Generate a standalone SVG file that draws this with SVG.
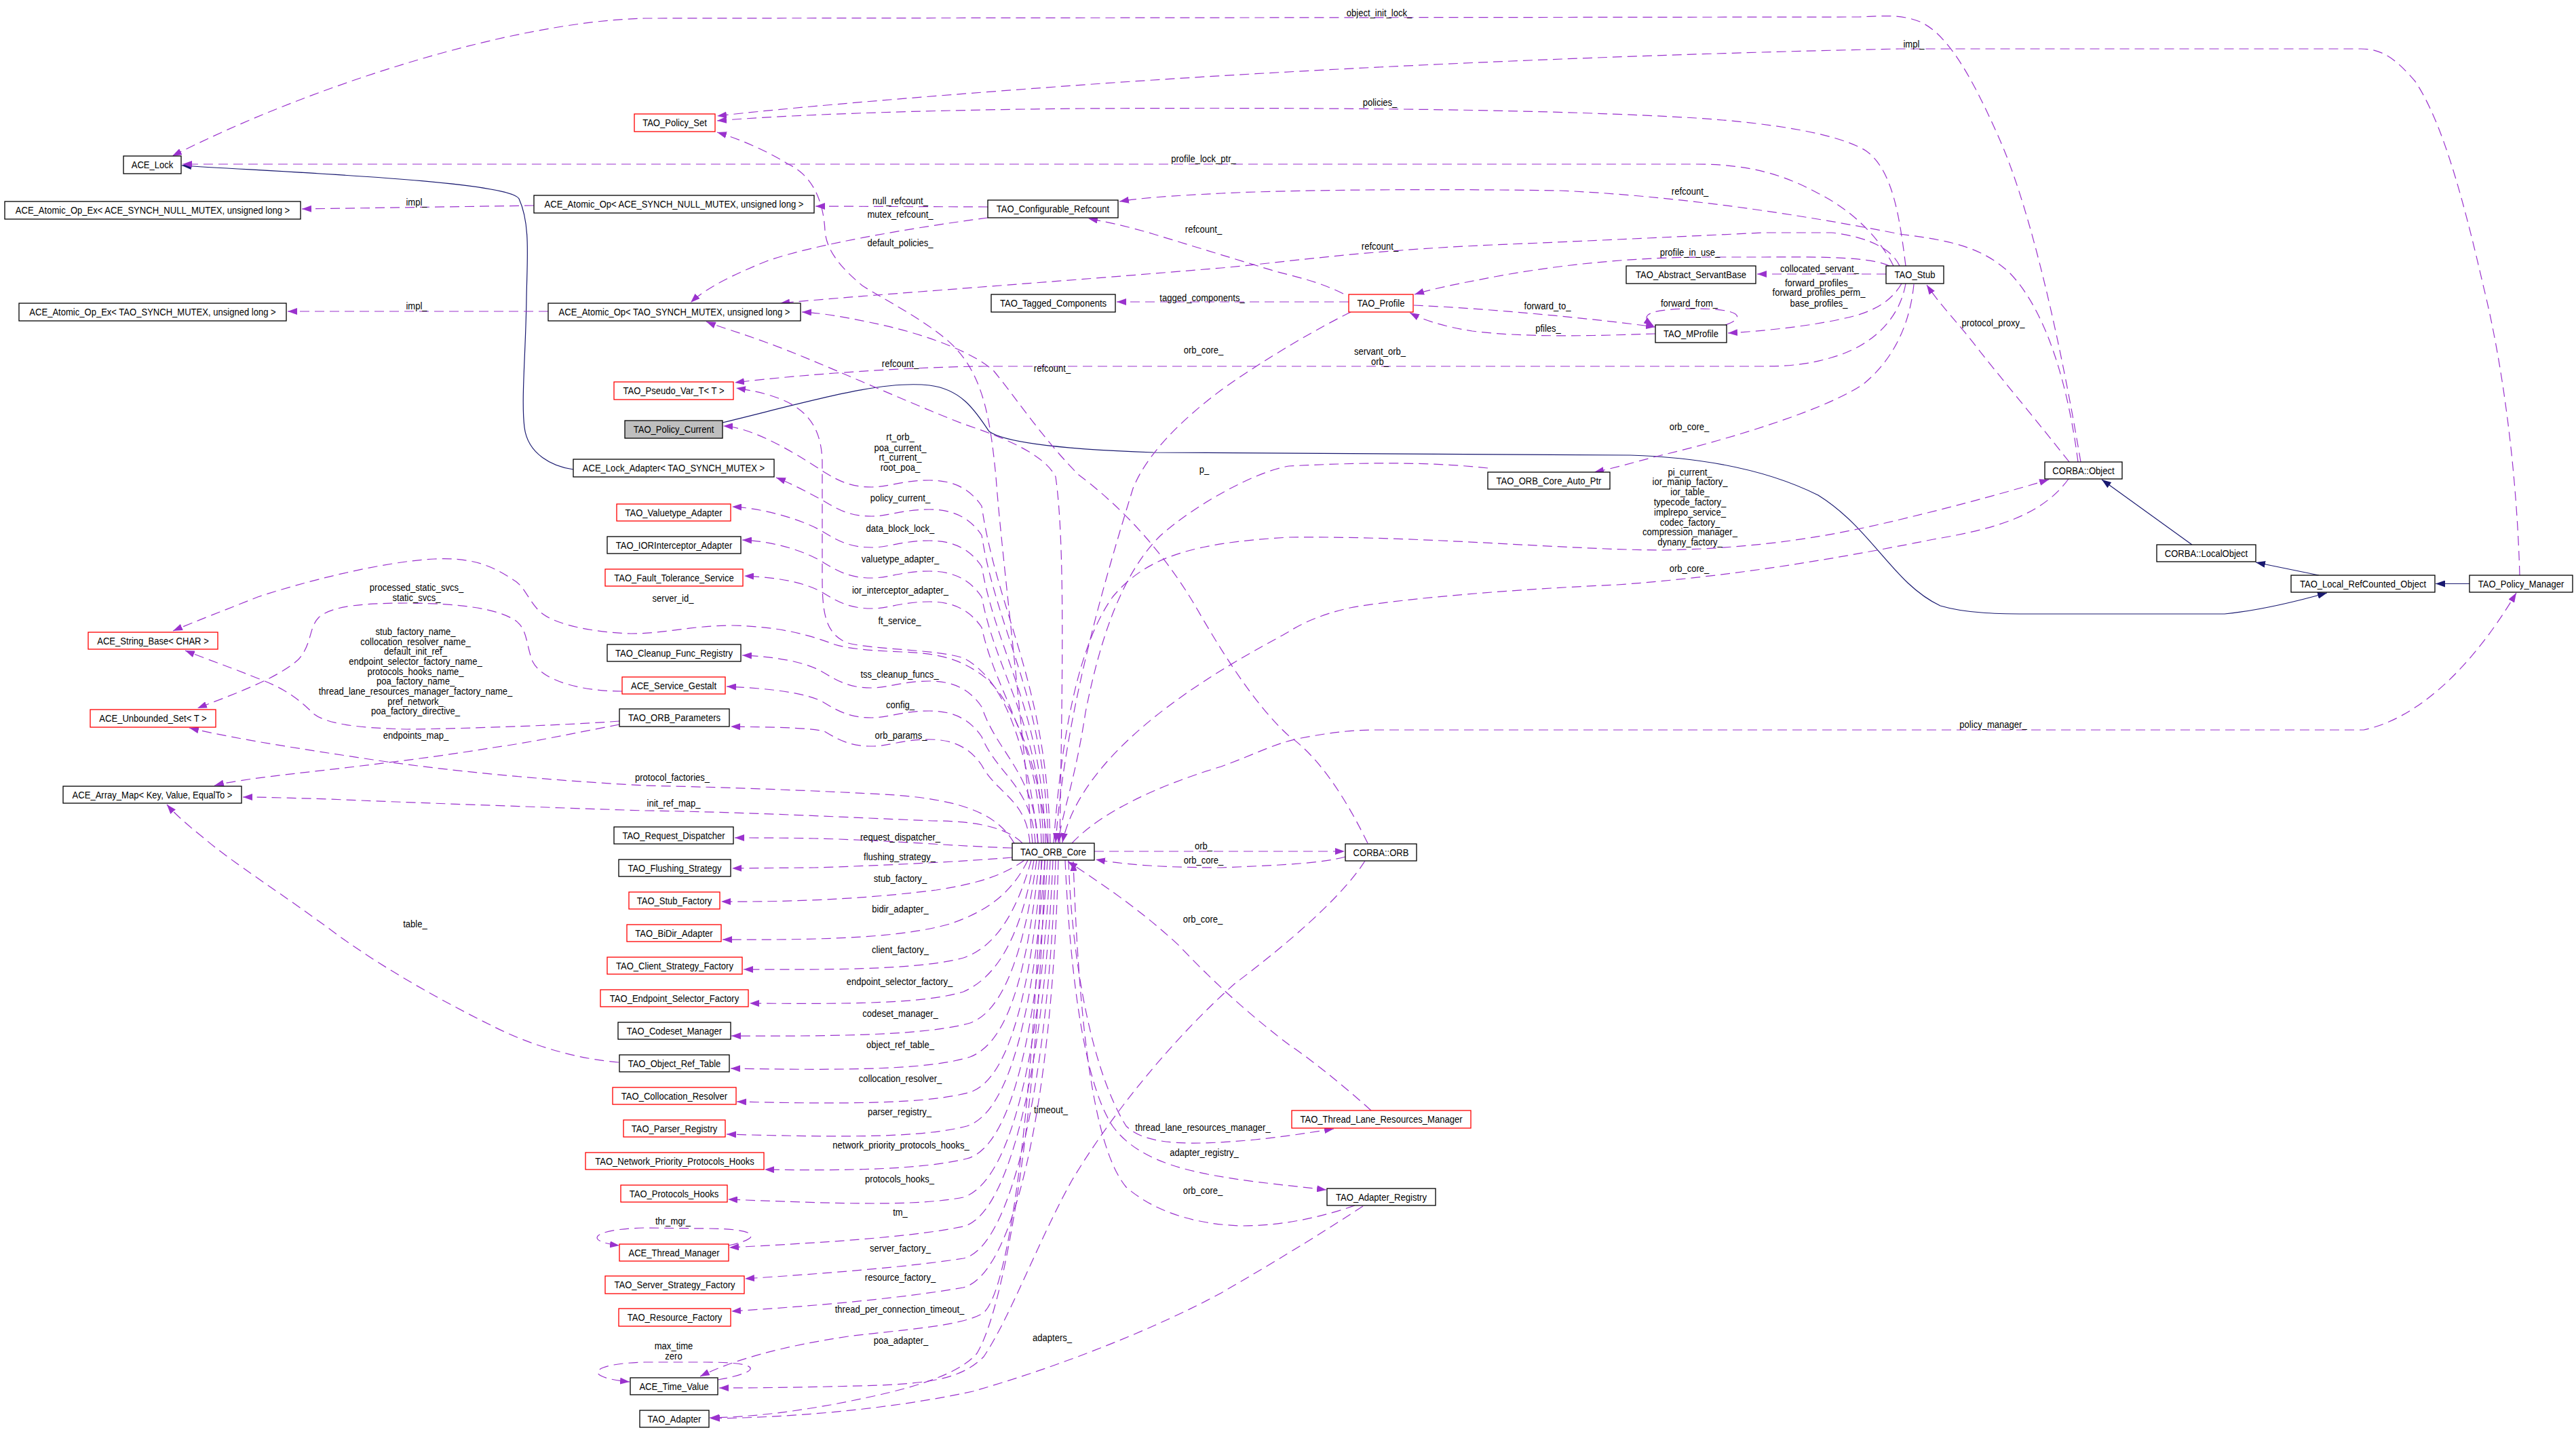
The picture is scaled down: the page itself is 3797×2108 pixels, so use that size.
<svg xmlns="http://www.w3.org/2000/svg" width="3797" height="2108" viewBox="0 0 3797 2108">
<style>
text{font-family:"Liberation Sans",Arial,sans-serif;font-size:15px;fill:#000;text-anchor:middle}
rect.b{fill:#fff;stroke:#000;stroke-width:1.3}
rect.r{fill:#fff;stroke:#ff0000;stroke-width:1.3}
rect.g{fill:#bfbfbf;stroke:#000;stroke-width:1.3}
.e{fill:none;stroke:#9a32cd;stroke-width:1.2;stroke-dasharray:14,8;marker-end:url(#pa)}
.i{fill:none;stroke:#191970;stroke-width:1.2;marker-end:url(#na)}
</style>
<defs>
<marker id="pa" viewBox="0 0 14 10" refX="14" refY="5" markerWidth="14" markerHeight="10" markerUnits="userSpaceOnUse" orient="auto"><path d="M0,0 L14,5 L0,10 z" fill="#9a32cd"/></marker>
<marker id="na" viewBox="0 0 14 10" refX="14" refY="5" markerWidth="14" markerHeight="10" markerUnits="userSpaceOnUse" orient="auto"><path d="M0,0 L14,5 L0,10 z" fill="#191970"/></marker>
</defs>
<rect x="0" y="0" width="3797" height="2108" fill="#fff"/>

<g id="connectors">
<path class="i" d="M845,692 C815,688 778,670 773,630 C768,590 775,520 776,440 C777,380 782,330 765,293 C750,266 400,253 268,244"/>
<path class="i" d="M1065,623 C1200,590 1300,560 1370,568 C1420,574 1440,610 1458,636 C1480,652 1560,662 1700,667 L2403,671 C2530,675 2620,700 2680,730 C2760,780 2790,860 2860,893 C2900,905 2950,905 3000,905 L3279,905 C3330,900 3380,888 3430,874"/>
<path class="i" d="M3231,803 L3098,707"/>
<path class="i" d="M3418,848 L3325,829"/>
<path class="i" d="M3640,860.5 L3590,860.5"/>

<path class="e" d="M3067,681 C3040,520 2995,310 2945,200 C2905,110 2870,50 2830,32 C2800,20 2770,24 2740,25 L950,27 C750,32 450,130 254,230"/>
<path class="e" d="M3714,848 C3710,700 3690,540 3660,420 C3630,290 3600,180 3560,120 C3530,85 3510,72 3480,72 L2800,72 C2500,78 2000,95 1556,128 C1350,143 1150,160 1057,171"/>
<path class="e" d="M2809,392 C2800,320 2790,250 2750,222 C2710,198 2620,182 2500,174 C2300,162 2000,158 1600,160 C1350,162 1150,170 1057,178"/>
<path class="e" d="M2791,392 C2770,350 2730,310 2680,285 C2630,258 2580,242 2500,242 L269,242"/>
<path class="e" d="M3063,681 C3050,580 3020,460 2960,400 C2920,365 2880,355 2800,345 C2700,325 2500,290 2300,281 C2100,278 1900,280 1800,285 C1720,289 1680,292 1650,297"/>
<path class="e" d="M1980,433 C1950,418 1920,410 1880,400 L1700,345 C1660,333 1630,327 1604,322"/>
<path class="e" d="M2785,392 C2760,380 2700,378 2600,379 L2506,379 C2400,380 2300,390 2203,408 C2150,418 2110,426 2085,434"/>
<path class="e" d="M2800,392 C2790,370 2760,350 2700,343 L2600,343 C2450,350 2300,357 2200,361 C2000,370 1900,386 1800,395 C1500,420 1250,437 1150,447"/>
<path class="e" d="M2780,404 L2590,404"/>
<path class="e" d="M2803,418 C2790,440 2770,455 2736,465 C2680,480 2600,488 2547,491"/>
<path class="e" d="M2084,450 C2200,455 2350,470 2440,482"/>
<path class="e" d="M2440,492 C2350,495 2250,498 2170,488 C2120,480 2095,470 2078,461"/>
<path class="e" d="M2543,479 C2575,468 2565,455 2500,455 C2440,455 2410,462 2437,480"/>
<path class="e" d="M1988,445 L1646,445"/>
<path class="e" d="M1456,305 L1202,304"/>
<path class="e" d="M1456,321 C1350,335 1200,360 1130,385 C1080,405 1040,425 1018,446"/>
<path class="e" d="M787,303 L445,308"/>
<path class="e" d="M808,459 L424,459"/>
<path class="e" d="M2809,418 C2800,470 2760,510 2700,527 C2670,536 2640,540 2600,540 L1450,540 C1350,541 1200,550 1083,564"/>
<path class="e" d="M2821,419 C2815,480 2790,530 2748,565 C2700,600 2560,645 2445,672 C2410,681 2380,690 2350,696"/>
<path class="e" d="M3050,681 C3010,630 2960,570 2920,520 C2890,480 2860,450 2840,420"/>

<path class="e" d="M1522,1243 C1500,1000 1475,800 1468,703 C1460,620 1450,560 1411,516 C1380,480 1300,440 1271,421 C1240,395 1218,370 1216,340 C1214,300 1200,260 1162,242 C1130,222 1090,205 1057,195"/>
<path class="e" d="M1562,1243 C1566,1000 1570,800 1556,703 C1540,670 1480,645 1420,625 C1330,590 1200,530 1130,505 C1090,490 1060,482 1041,474"/>
<path class="e" d="M2016,1243 C1990,1190 1950,1120 1900,1085 C1850,1040 1800,960 1760,890 C1700,790 1630,730 1590,700 C1540,650 1500,590 1465,547 C1430,515 1350,490 1300,479 C1250,468 1210,461 1182,460"/>
<path class="e" d="M1991,460 C1950,480 1870,525 1800,575 C1740,620 1690,670 1670,720 C1630,850 1570,1050 1556,1242"/>
<path class="e" d="M1553,1243 C1565,1080 1590,950 1640,880 C1690,820 1760,800 1900,792 C2100,790 2300,810 2450,811 C2600,808 2700,790 2800,766 C2900,742 2970,722 3020,707"/>
<path class="e" d="M3049,706 C3010,760 2940,780 2850,795 C2700,825 2550,850 2384,862 C2200,870 2050,885 1990,896 C1950,905 1920,918 1900,931 C1860,955 1600,1080 1566,1242"/>
<path class="e" d="M2193,690 C2100,680 2000,682 1900,687 C1850,695 1760,745 1710,790 C1650,850 1620,950 1600,1050 C1585,1150 1565,1200 1560,1242"/>
<path class="e" d="M1580,1243 C1620,1200 1700,1160 1800,1130 C1850,1112 1880,1095 1918,1088 C1960,1080 1990,1076 2030,1076 L3484,1076 C3560,1060 3640,990 3709,874"/>
<path class="e" d="M1613,1255 L1982,1255"/>
<path class="e" d="M1983,1263 C1950,1272 1900,1275 1800,1279 C1700,1279 1650,1273 1615,1267"/>

<path class="e" d="M1530,1243 C1515,1100 1480,1000 1420,970 C1380,957 1290,958 1250,948 C1215,935 1212,900 1212,850 L1212,680 C1210,610 1170,585 1085,572"/>
<path class="e" d="M1548,1243 C1543,1006 1470,904 1447,746 C1432,724 1410,708 1370,708 C1330,708 1310,718 1285,718 C1255,718 1238,710 1215,696 C1190,680 1116,630 1066,628"/>
<path class="e" d="M1545,1243 C1540,1025 1470,934 1447,789 C1432,767 1410,751 1370,751 C1330,751 1310,761 1285,761 C1255,761 1238,753 1215,739 C1195,728 1165,712 1144,704"/>
<path class="e" d="M1541,1243 C1536,1046 1470,966 1447,835 C1432,813 1410,797 1370,797 C1330,797 1310,807 1285,807 C1255,807 1238,799 1215,785 C1190,769 1129,749 1079,747"/>
<path class="e" d="M1538,1243 C1533,1066 1470,998 1447,880 C1432,858 1410,842 1370,842 C1330,842 1310,852 1285,852 C1255,852 1238,844 1215,830 C1190,814 1144,798 1094,796"/>
<path class="e" d="M1535,1243 C1530,1086 1470,1029 1447,925 C1432,903 1410,887 1370,887 C1330,887 1310,897 1285,897 C1255,897 1238,889 1215,875 C1190,859 1147,851 1097,849"/>
<path class="e" d="M1544,1243 C1530,1120 1490,1020 1440,990 C1410,970 1380,963 1330,961 C1280,959 1250,956 1230,950 C1190,935 1150,924 1080,922 C1020,922 980,934 930,934 C870,932 820,920 800,905 C780,890 775,865 757,855 C720,830 690,822 640,824 C560,828 440,860 380,880 C330,900 290,915 255,930"/>
<path class="e" d="M1530,1243 C1525,1139 1470,1111 1447,1042 C1432,1020 1410,1004 1370,1004 C1330,1004 1310,1014 1285,1014 C1255,1014 1238,1006 1215,992 C1190,976 1144,968 1094,966"/>
<path class="e" d="M1526,1243 C1521,1159 1470,1142 1447,1086 C1432,1064 1410,1048 1370,1048 C1330,1048 1310,1058 1285,1058 C1255,1058 1238,1050 1215,1036 C1190,1020 1121,1014 1071,1012"/>
<path class="e" d="M1518,1243 C1513,1178 1470,1171 1447,1128 C1432,1106 1410,1090 1370,1090 C1330,1090 1310,1100 1285,1100 C1255,1100 1238,1092 1215,1078 C1190,1072 1127,1072 1077,1071"/>

<path class="e" d="M1495,1243 C1470,1200 1420,1180 1320,1172 C1200,1165 1050,1160 950,1158 C800,1150 650,1135 550,1120 C450,1105 350,1090 279,1073"/>
<path class="e" d="M1507,1243 C1480,1215 1420,1210 1374,1210 C1250,1205 1100,1197 950,1195 C800,1190 600,1183 485,1178 C420,1176 380,1175 358,1175"/>
<path class="e" d="M913,1068 C850,1080 780,1095 727,1102 C620,1120 480,1135 420,1142 C370,1148 335,1153 316,1158"/>
<path class="e" d="M913,1063 C850,1068 700,1074 600,1075 C520,1073 480,1066 462,1052 C440,1030 420,1015 380,1000 C330,980 300,970 273,959"/>
<path class="e" d="M917,1019 C860,1019 800,1005 785,975 C775,950 778,925 757,913 C730,897 680,890 606,889 C540,889 490,892 470,910 C455,925 460,950 440,972 C410,1000 340,1025 291,1044"/>
<path class="e" d="M912,1566 C860,1562 790,1545 727,1513 C650,1475 570,1430 500,1380 C420,1320 340,1270 300,1235 C275,1215 258,1200 246,1186"/>

<path class="e" d="M1492,1250 C1420,1248 1300,1238 1200,1236 C1150,1235 1110,1235 1083,1235"/>
<path class="e" d="M1492,1264 C1420,1270 1300,1276 1200,1279 L1079,1280"/>
<path class="e" d="M1510,1268 C1480,1290 1440,1303 1380,1312 C1300,1322 1200,1330 1063,1329"/>
<path class="e" d="M1515,1268 C1490,1320 1450,1345 1400,1362 C1330,1382 1220,1386 1065,1385"/>
<path class="e" d="M1520,1268 C1500,1340 1470,1395 1420,1412 C1360,1428 1250,1430 1096,1429"/>
<path class="e" d="M1524,1268 C1505,1380 1470,1440 1420,1462 C1360,1480 1250,1480 1105,1479"/>
<path class="e" d="M1528,1268 C1510,1400 1480,1490 1430,1508 C1370,1525 1250,1528 1078,1527"/>
<path class="e" d="M1532,1268 C1515,1420 1490,1535 1430,1558 C1370,1577 1250,1578 1077,1575"/>
<path class="e" d="M1536,1268 C1520,1450 1490,1590 1430,1610 C1370,1627 1250,1628 1086,1624"/>
<path class="e" d="M1540,1268 C1525,1480 1490,1640 1425,1660 C1360,1677 1250,1677 1071,1672"/>
<path class="e" d="M1544,1268 C1530,1500 1495,1690 1425,1708 C1360,1724 1250,1726 1127,1724"/>
<path class="e" d="M1548,1268 C1535,1530 1495,1740 1420,1765 C1350,1778 1250,1775 1073,1768"/>
<path class="e" d="M1552,1268 C1540,1560 1490,1790 1420,1808 C1350,1822 1250,1830 1075,1839"/>
<path class="e" d="M1074,1836 C1125,1825 1120,1811 1040,1811 L950,1810 C870,1812 860,1830 913,1836"/>
<path class="e" d="M1556,1268 C1545,1600 1490,1840 1420,1855 C1350,1866 1250,1875 1098,1885"/>
<path class="e" d="M1560,1268 C1550,1650 1490,1880 1420,1898 C1350,1910 1250,1922 1078,1933"/>
<path class="e" d="M1535,1268 C1525,1600 1490,1900 1450,1935 C1420,1955 1330,1960 1250,1970 C1150,1985 1080,2005 1032,2029"/>
<path class="e" d="M1058,2034 C1125,2022 1125,2008 1040,2008 L950,2008 C870,2010 855,2030 928,2037"/>
<path class="e" d="M1540,1268 C1530,1650 1480,1930 1440,1995 C1410,2030 1330,2050 1250,2066 C1180,2080 1110,2089 1046,2090"/>
<path class="e" d="M2012,1269 C1980,1320 1900,1390 1820,1450 C1730,1530 1640,1640 1580,1740 C1530,1830 1490,1940 1450,2000 C1420,2030 1380,2038 1300,2042 C1200,2045 1120,2046 1060,2046"/>
<path class="e" d="M2009,1778 C1960,1810 1900,1848 1800,1906 C1700,1960 1560,2015 1434,2051 C1300,2080 1150,2090 1047,2091"/>
<path class="e" d="M1575,1268 C1580,1420 1610,1580 1660,1660 C1690,1690 1760,1688 1850,1680 C1900,1675 1940,1668 1966,1664"/>
<path class="e" d="M2021,1637 C1980,1600 1930,1560 1900,1540 C1860,1510 1800,1460 1738,1394 C1680,1340 1620,1300 1574,1270"/>
<path class="e" d="M1570,1268 C1578,1450 1600,1600 1640,1660 C1680,1715 1760,1730 1850,1742 C1900,1748 1930,1751 1955,1754"/>
<path class="e" d="M1997,1777 C1960,1790 1900,1807 1830,1807 C1760,1805 1700,1785 1660,1750 C1610,1690 1590,1500 1582,1270"/>
</g>

<g id="edge-labels">
<text transform="translate(2033,23.5) scale(.87,1)">object_init_lock_</text>
<text transform="translate(2821,70) scale(.87,1)">impl_</text>
<text transform="translate(2034,156) scale(.87,1)">policies_</text>
<text transform="translate(1774,239) scale(.87,1)">profile_lock_ptr_</text>
<text transform="translate(2491,287) scale(.87,1)">refcount_</text>
<text transform="translate(1774,343) scale(.87,1)">refcount_</text>
<text transform="translate(2491,376.5) scale(.87,1)">profile_in_use_</text>
<text transform="translate(2034,368) scale(.87,1)">refcount_</text>
<text transform="translate(2682,401) scale(.87,1)">collocated_servant_</text>
<text transform="translate(2681,421.5) scale(.87,1)">forward_profiles_</text>
<text transform="translate(2681,436.3) scale(.87,1)">forward_profiles_perm_</text>
<text transform="translate(2681,451.5) scale(.87,1)">base_profiles_</text>
<text transform="translate(2281,456) scale(.87,1)">forward_to_</text>
<text transform="translate(2490,452) scale(.87,1)">forward_from_</text>
<text transform="translate(2282,489) scale(.87,1)">pfiles_</text>
<text transform="translate(1772,443.5) scale(.87,1)">tagged_components_</text>
<text transform="translate(1327,301) scale(.87,1)">null_refcount_</text>
<text transform="translate(1327,321) scale(.87,1)">mutex_refcount_</text>
<text transform="translate(1327,363) scale(.87,1)">default_policies_</text>
<text transform="translate(614,302.5) scale(.87,1)">impl_</text>
<text transform="translate(614,456) scale(.87,1)">impl_</text>
<text transform="translate(1774,521) scale(.87,1)">orb_core_</text>
<text transform="translate(1327,541) scale(.87,1)">refcount_</text>
<text transform="translate(1551,547.5) scale(.87,1)">refcount_</text>
<text transform="translate(2034,523) scale(.87,1)">servant_orb_</text>
<text transform="translate(2034,538) scale(.87,1)">orb_</text>
<text transform="translate(2490,633.5) scale(.87,1)">orb_core_</text>
<text transform="translate(2938,480.5) scale(.87,1)">protocol_proxy_</text>
<text transform="translate(1775,697) scale(.87,1)">p_</text>
<text transform="translate(2491,700.5) scale(.87,1)">pi_current_</text>
<text transform="translate(2491,715.3) scale(.87,1)">ior_manip_factory_</text>
<text transform="translate(2491,730.1) scale(.87,1)">ior_table_</text>
<text transform="translate(2491,744.9) scale(.87,1)">typecode_factory_</text>
<text transform="translate(2491,759.7) scale(.87,1)">implrepo_service_</text>
<text transform="translate(2491,774.5) scale(.87,1)">codec_factory_</text>
<text transform="translate(2491,789.3) scale(.87,1)">compression_manager_</text>
<text transform="translate(2491,804.1) scale(.87,1)">dynany_factory_</text>
<text transform="translate(2490,843.4) scale(.87,1)">orb_core_</text>
<text transform="translate(1327,649) scale(.87,1)">rt_orb_</text>
<text transform="translate(1327,664.5) scale(.87,1)">poa_current_</text>
<text transform="translate(1327,679.3) scale(.87,1)">rt_current_</text>
<text transform="translate(1327,693.5) scale(.87,1)">root_poa_</text>
<text transform="translate(1327,739) scale(.87,1)">policy_current_</text>
<text transform="translate(1327,783.5) scale(.87,1)">data_block_lock_</text>
<text transform="translate(1327,828.5) scale(.87,1)">valuetype_adapter_</text>
<text transform="translate(1327,874.5) scale(.87,1)">ior_interceptor_adapter_</text>
<text transform="translate(1326,919.5) scale(.87,1)">ft_service_</text>
<text transform="translate(992,886.5) scale(.87,1)">server_id_</text>
<text transform="translate(1326,998.5) scale(.87,1)">tss_cleanup_funcs_</text>
<text transform="translate(1327,1043.5) scale(.87,1)">config_</text>
<text transform="translate(1328,1089) scale(.87,1)">orb_params_</text>
<text transform="translate(614,871) scale(.87,1)">processed_static_svcs_</text>
<text transform="translate(614,885.5) scale(.87,1)">static_svcs_</text>
<text transform="translate(612.5,936.2) scale(.87,1)">stub_factory_name_</text>
<text transform="translate(612.5,951) scale(.87,1)">collocation_resolver_name_</text>
<text transform="translate(612.5,965.3) scale(.87,1)">default_init_ref_</text>
<text transform="translate(612.5,980.1) scale(.87,1)">endpoint_selector_factory_name_</text>
<text transform="translate(612.5,994.9) scale(.87,1)">protocols_hooks_name_</text>
<text transform="translate(612.5,1009.2) scale(.87,1)">poa_factory_name_</text>
<text transform="translate(612.5,1024) scale(.87,1)">thread_lane_resources_manager_factory_name_</text>
<text transform="translate(612.5,1039.3) scale(.87,1)">pref_network_</text>
<text transform="translate(612.5,1053.2) scale(.87,1)">poa_factory_directive_</text>
<text transform="translate(613,1089) scale(.87,1)">endpoints_map_</text>
<text transform="translate(991,1150.5) scale(.87,1)">protocol_factories_</text>
<text transform="translate(993,1189) scale(.87,1)">init_ref_map_</text>
<text transform="translate(612,1367) scale(.87,1)">table_</text>
<text transform="translate(1327,1238.5) scale(.87,1)">request_dispatcher_</text>
<text transform="translate(1326,1268) scale(.87,1)">flushing_strategy_</text>
<text transform="translate(1327,1299.5) scale(.87,1)">stub_factory_</text>
<text transform="translate(1327,1345) scale(.87,1)">bidir_adapter_</text>
<text transform="translate(1327,1404.5) scale(.87,1)">client_factory_</text>
<text transform="translate(1326,1452) scale(.87,1)">endpoint_selector_factory_</text>
<text transform="translate(1327,1499) scale(.87,1)">codeset_manager_</text>
<text transform="translate(1327,1544.5) scale(.87,1)">object_ref_table_</text>
<text transform="translate(1327,1595) scale(.87,1)">collocation_resolver_</text>
<text transform="translate(1326,1644) scale(.87,1)">parser_registry_</text>
<text transform="translate(1328,1693) scale(.87,1)">network_priority_protocols_hooks_</text>
<text transform="translate(1326,1743) scale(.87,1)">protocols_hooks_</text>
<text transform="translate(992,1805) scale(.87,1)">thr_mgr_</text>
<text transform="translate(1327,1792) scale(.87,1)">tm_</text>
<text transform="translate(1327,1844.5) scale(.87,1)">server_factory_</text>
<text transform="translate(1327,1888) scale(.87,1)">resource_factory_</text>
<text transform="translate(1326,1935) scale(.87,1)">thread_per_connection_timeout_</text>
<text transform="translate(993,1989) scale(.87,1)">max_time</text>
<text transform="translate(993,2004) scale(.87,1)">zero</text>
<text transform="translate(1328,1981) scale(.87,1)">poa_adapter_</text>
<text transform="translate(1549,1641) scale(.87,1)">timeout_</text>
<text transform="translate(1551,1977) scale(.87,1)">adapters_</text>
<text transform="translate(1773,1667) scale(.87,1)">thread_lane_resources_manager_</text>
<text transform="translate(1775,1703.5) scale(.87,1)">adapter_registry_</text>
<text transform="translate(1773,1760) scale(.87,1)">orb_core_</text>
<text transform="translate(1773,1360) scale(.87,1)">orb_core_</text>
<text transform="translate(1774,1252) scale(.87,1)">orb_</text>
<text transform="translate(1774,1272.5) scale(.87,1)">orb_core_</text>
<text transform="translate(2938,1073) scale(.87,1)">policy_manager_</text>
</g>

<g id="n1"><rect class="b" x="182" y="230" width="85" height="26"/><text transform="translate(224.5,248.4) scale(.87,1)">ACE_Lock</text></g>
<g id="n2"><rect class="b" x="7" y="297" width="436" height="26"/><text transform="translate(225,315.4) scale(.87,1)">ACE_Atomic_Op_Ex&lt; ACE_SYNCH_NULL_MUTEX, unsigned long &gt;</text></g>
<g id="n3"><rect class="b" x="28" y="447" width="394" height="26"/><text transform="translate(225,465.4) scale(.87,1)">ACE_Atomic_Op_Ex&lt; TAO_SYNCH_MUTEX, unsigned long &gt;</text></g>
<g id="n4"><rect class="b" x="787" y="288" width="413" height="26"/><text transform="translate(993.5,306.4) scale(.87,1)">ACE_Atomic_Op&lt; ACE_SYNCH_NULL_MUTEX, unsigned long &gt;</text></g>
<g id="n5"><rect class="b" x="808" y="447" width="372" height="26"/><text transform="translate(994,465.4) scale(.87,1)">ACE_Atomic_Op&lt; TAO_SYNCH_MUTEX, unsigned long &gt;</text></g>
<g id="n6"><rect class="r" x="935" y="168" width="119" height="26"/><text transform="translate(994.5,186.4) scale(.87,1)">TAO_Policy_Set</text></g>
<g id="n7"><rect class="r" x="905" y="563" width="176" height="26"/><text transform="translate(993,581.4) scale(.87,1)">TAO_Pseudo_Var_T&lt; T &gt;</text></g>
<g id="n8"><rect class="g" x="921" y="620" width="144" height="26"/><text transform="translate(993,638.4) scale(.87,1)">TAO_Policy_Current</text></g>
<g id="n9"><rect class="b" x="845" y="677" width="296" height="26"/><text transform="translate(993,695.4) scale(.87,1)">ACE_Lock_Adapter&lt; TAO_SYNCH_MUTEX &gt;</text></g>
<g id="n10"><rect class="b" x="1456" y="295" width="192" height="26"/><text transform="translate(1552,313.4) scale(.87,1)">TAO_Configurable_Refcount</text></g>
<g id="n11"><rect class="b" x="1461" y="434" width="183" height="26"/><text transform="translate(1552.5,452.4) scale(.87,1)">TAO_Tagged_Components</text></g>
<g id="n12"><rect class="r" x="1988" y="434" width="95" height="26"/><text transform="translate(2035.5,452.4) scale(.87,1)">TAO_Profile</text></g>
<g id="n13"><rect class="b" x="2397" y="392" width="191" height="26"/><text transform="translate(2492.5,410.4) scale(.87,1)">TAO_Abstract_ServantBase</text></g>
<g id="n14"><rect class="b" x="2780" y="392" width="85" height="26"/><text transform="translate(2822.5,410.4) scale(.87,1)">TAO_Stub</text></g>
<g id="n15"><rect class="b" x="2440" y="479" width="105" height="26"/><text transform="translate(2492.5,497.4) scale(.87,1)">TAO_MProfile</text></g>
<g id="n16"><rect class="b" x="2193" y="696" width="180" height="25"/><text transform="translate(2283,713.9) scale(.87,1)">TAO_ORB_Core_Auto_Ptr</text></g>
<g id="n17"><rect class="b" x="3014" y="681" width="114" height="25"/><text transform="translate(3071,698.9) scale(.87,1)">CORBA::Object</text></g>
<g id="n18"><rect class="r" x="130" y="932" width="191" height="25"/><text transform="translate(225.5,949.9) scale(.87,1)">ACE_String_Base&lt; CHAR &gt;</text></g>
<g id="n19"><rect class="r" x="133" y="1046" width="185" height="26"/><text transform="translate(225.5,1064.4) scale(.87,1)">ACE_Unbounded_Set&lt; T &gt;</text></g>
<g id="n20"><rect class="b" x="93" y="1159" width="263" height="25"/><text transform="translate(224.5,1176.9) scale(.87,1)">ACE_Array_Map&lt; Key, Value, EqualTo &gt;</text></g>
<g id="n21"><rect class="r" x="909" y="743" width="168" height="25"/><text transform="translate(993,760.9) scale(.87,1)">TAO_Valuetype_Adapter</text></g>
<g id="n22"><rect class="b" x="895" y="791" width="197" height="25"/><text transform="translate(993.5,808.9) scale(.87,1)">TAO_IORInterceptor_Adapter</text></g>
<g id="n23"><rect class="r" x="892" y="839" width="203" height="25"/><text transform="translate(993.5,856.9) scale(.87,1)">TAO_Fault_Tolerance_Service</text></g>
<g id="n24"><rect class="b" x="895" y="950" width="197" height="25"/><text transform="translate(993.5,967.9) scale(.87,1)">TAO_Cleanup_Func_Registry</text></g>
<g id="n25"><rect class="r" x="917" y="998" width="152" height="25"/><text transform="translate(993,1015.9) scale(.87,1)">ACE_Service_Gestalt</text></g>
<g id="n26"><rect class="b" x="913" y="1045" width="162" height="26"/><text transform="translate(994,1063.4) scale(.87,1)">TAO_ORB_Parameters</text></g>
<g id="n27"><rect class="b" x="905" y="1219" width="176" height="25"/><text transform="translate(993,1236.9) scale(.87,1)">TAO_Request_Dispatcher</text></g>
<g id="n28"><rect class="b" x="912" y="1267" width="165" height="25"/><text transform="translate(994.5,1284.9) scale(.87,1)">TAO_Flushing_Strategy</text></g>
<g id="n29"><rect class="r" x="927" y="1315" width="134" height="25"/><text transform="translate(994,1332.9) scale(.87,1)">TAO_Stub_Factory</text></g>
<g id="n30"><rect class="r" x="924" y="1363" width="139" height="25"/><text transform="translate(993.5,1380.9) scale(.87,1)">TAO_BiDir_Adapter</text></g>
<g id="n31"><rect class="r" x="895" y="1411" width="199" height="25"/><text transform="translate(994.5,1428.9) scale(.87,1)">TAO_Client_Strategy_Factory</text></g>
<g id="n32"><rect class="r" x="885" y="1459" width="218" height="25"/><text transform="translate(994,1476.9) scale(.87,1)">TAO_Endpoint_Selector_Factory</text></g>
<g id="n33"><rect class="b" x="911" y="1507" width="166" height="25"/><text transform="translate(994,1524.9) scale(.87,1)">TAO_Codeset_Manager</text></g>
<g id="n34"><rect class="b" x="913" y="1555" width="162" height="25"/><text transform="translate(994,1572.9) scale(.87,1)">TAO_Object_Ref_Table</text></g>
<g id="n35"><rect class="r" x="903" y="1603" width="182" height="25"/><text transform="translate(994,1620.9) scale(.87,1)">TAO_Collocation_Resolver</text></g>
<g id="n36"><rect class="r" x="919" y="1651" width="150" height="25"/><text transform="translate(994,1668.9) scale(.87,1)">TAO_Parser_Registry</text></g>
<g id="n37"><rect class="r" x="863" y="1699" width="263" height="25"/><text transform="translate(994.5,1716.9) scale(.87,1)">TAO_Network_Priority_Protocols_Hooks</text></g>
<g id="n38"><rect class="r" x="915" y="1747" width="157" height="25"/><text transform="translate(993.5,1764.9) scale(.87,1)">TAO_Protocols_Hooks</text></g>
<g id="n39"><rect class="r" x="913" y="1834" width="161" height="25"/><text transform="translate(993.5,1851.9) scale(.87,1)">ACE_Thread_Manager</text></g>
<g id="n40"><rect class="r" x="892" y="1881" width="205" height="26"/><text transform="translate(994.5,1899.4) scale(.87,1)">TAO_Server_Strategy_Factory</text></g>
<g id="n41"><rect class="r" x="912" y="1929" width="165" height="26"/><text transform="translate(994.5,1947.4) scale(.87,1)">TAO_Resource_Factory</text></g>
<g id="n42"><rect class="b" x="929" y="2031" width="129" height="25"/><text transform="translate(993.5,2048.9) scale(.87,1)">ACE_Time_Value</text></g>
<g id="n43"><rect class="b" x="943" y="2079" width="102" height="25"/><text transform="translate(994,2096.9) scale(.87,1)">TAO_Adapter</text></g>
<g id="n44"><rect class="b" x="1492" y="1243" width="121" height="25"/><text transform="translate(1552.5,1260.9) scale(.87,1)">TAO_ORB_Core</text></g>
<g id="n45"><rect class="b" x="1983" y="1244" width="105" height="25"/><text transform="translate(2035.5,1261.9) scale(.87,1)">CORBA::ORB</text></g>
<g id="n46"><rect class="b" x="3179" y="803" width="146" height="25"/><text transform="translate(3252,820.9) scale(.87,1)">CORBA::LocalObject</text></g>
<g id="n47"><rect class="b" x="3377" y="848" width="212" height="25"/><text transform="translate(3483,865.9) scale(.87,1)">TAO_Local_RefCounted_Object</text></g>
<g id="n48"><rect class="b" x="3640" y="848" width="152" height="25"/><text transform="translate(3716,865.9) scale(.87,1)">TAO_Policy_Manager</text></g>
<g id="n49"><rect class="r" x="1904" y="1637" width="264" height="26"/><text transform="translate(2036,1655.4) scale(.87,1)">TAO_Thread_Lane_Resources_Manager</text></g>
<g id="n50"><rect class="b" x="1956" y="1752" width="160" height="25"/><text transform="translate(2036,1769.9) scale(.87,1)">TAO_Adapter_Registry</text></g>
</svg>
